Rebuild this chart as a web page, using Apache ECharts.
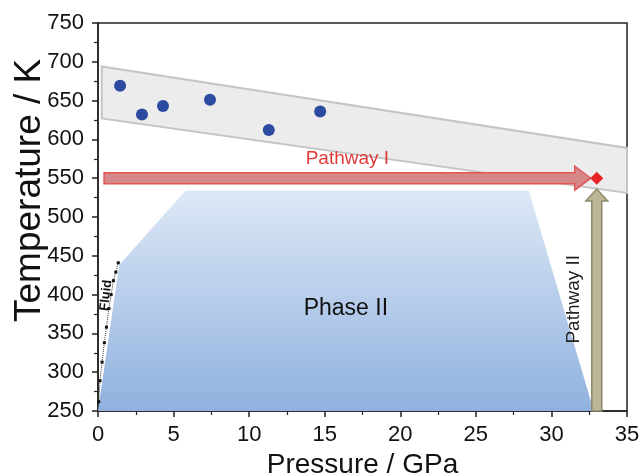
<!DOCTYPE html>
<html>
<head>
<meta charset="utf-8">
<script src="https://cdn.jsdelivr.net/npm/echarts@6/dist/echarts.min.js"></script>
<style>html,body{margin:0;padding:0;background:#fff}#c{width:641px;height:475px}</style>
</head>
<body>
<div id="c"></div>
<script>
// ---- data ----
const xTicks = [0, 5, 10, 15, 20, 25, 30, 35];
const yTicks = [250, 300, 350, 400, 450, 500, 550, 600, 650, 700, 750];
const pressure = [1.46, 2.91, 4.3, 7.41, 11.3, 14.7];
const temperature = [669, 632, 643, 651, 612, 636];
const bandPolygon = [[0.25, 694], [35, 589], [35, 531], [0.25, 627]];
const phaseIIPolygon = [[0, 250], [1.4, 438], [5.8, 534], [28.5, 534], [32.8, 250]];
const fluidP = [0.05, 0.13, 0.27, 0.42, 0.56, 0.72, 0.87, 1.02, 1.18, 1.34];
const fluidT = [262, 289, 313, 338, 358, 382, 400, 418, 429, 441];
const pathwayI = [[0.4, 550], [32.6, 550]];
const pathwayII = [[33.0, 250], [33.0, 536]];
const targetPoint = [[33.0, 550]];
const labelTexts = ['Pathway I', 'Pathway II', 'Phase II', 'Fluid'];
const labelAnchors = [[16.5, 575], [31.5, 394], [16.4, 382], [0.53, 399]];

const chart = echarts.init(document.getElementById('c'), null, {renderer: 'canvas'});
const FONT = '"Liberation Sans", Arial, sans-serif';

function hArrow(api, seg, st) {
  const a = api.coord(seg[0]), b = api.coord(seg[1]);
  const y = a[1], h = 5.5, H = 12, L = 16;
  return {type: 'polygon', shape: {points: [
    [a[0], y - h], [b[0] - L, y - h], [b[0] - L, y - H], [b[0], y],
    [b[0] - L, y + H], [b[0] - L, y + h], [a[0], y + h]]}, style: st};
}
function vArrow(api, seg, st) {
  const a = api.coord(seg[0]), b = api.coord(seg[1]);
  const x = a[0], w = 5, W = 11, L = 12;
  return {type: 'polygon', shape: {points: [
    [x - w, a[1]], [x - w, b[1] + L], [x - W, b[1] + L], [x, b[1]],
    [x + W, b[1] + L], [x + w, b[1] + L], [x + w, a[1]]]}, style: st};
}

const option = {
  animation: false,
  grid: {left: 98, right: 14, top: 23, bottom: 64, containLabel: false, outerBoundsMode: 'none',
    show: true, borderColor: '#222', borderWidth: 1.5, backgroundColor: 'transparent'},
  graphic: [{
    type: 'text',
    style: {text: 'Temperature / K', fontFamily: FONT, fontSize: 37, fill: '#111'},
    rotation: Math.PI / 2, x: 11, y: 322
  }],
  xAxis: {
    type: 'value', min: 0, max: 35, interval: 5,
    name: 'Pressure / GPa', nameLocation: 'middle', nameGap: 36,
    nameTextStyle: {fontFamily: FONT, fontSize: 28, color: '#111'},
    axisLine: {show: true, lineStyle: {color: '#222', width: 1.5}},
    axisTick: {show: true, inside: false, length: 6, lineStyle: {color: '#222', width: 1.5}},
    minorTick: {show: true, splitNumber: 2, length: 4, lineStyle: {color: '#222', width: 1.2}},
    axisLabel: {fontFamily: FONT, fontSize: 22, color: '#111', margin: 13, formatter: v => xTicks.includes(v) ? String(v) : ''},
    splitLine: {show: false}
  },
  yAxis: {
    type: 'value', min: 250, max: 750, interval: 50,
    axisLine: {show: true, lineStyle: {color: '#222', width: 1.5}},
    axisTick: {show: true, inside: false, length: 6, lineStyle: {color: '#222', width: 1.5}},
    minorTick: {show: true, splitNumber: 2, length: 4, lineStyle: {color: '#222', width: 1.2}},
    axisLabel: {fontFamily: FONT, fontSize: 22, color: '#111', margin: 14, formatter: v => yTicks.includes(v) ? String(v) : ''},
    splitLine: {show: false}
  },
  series: [
    {
      type: 'custom', name: 'band', z: 1, silent: true,
      data: [[0, 0]],
      renderItem: (params, api) => ({
        type: 'polygon',
        shape: {points: bandPolygon.map(p => api.coord(p))},
        style: {fill: '#ececec', stroke: '#c4c4c4', lineWidth: 2}
      })
    },
    {
      type: 'custom', name: 'phaseII', z: 2, silent: true,
      data: [[0, 0]],
      renderItem: (params, api) => ({
        type: 'polygon',
        shape: {points: phaseIIPolygon.map(p => api.coord(p))},
        style: {fill: new echarts.graphic.LinearGradient(0, 0, 0, 1, [
          {offset: 0, color: '#dde8f6'}, {offset: 1, color: '#90b1df'}])}
      })
    },
    {
      type: 'line', name: 'fluid', z: 3, silent: true,
      data: fluidP.map((p, i) => [p, fluidT[i]]),
      symbol: 'rect', symbolSize: 3,
      itemStyle: {color: '#111'},
      lineStyle: {color: '#333', width: 1, type: 'dotted'}
    },
    {
      type: 'custom', name: 'arrows', z: 4, silent: true,
      data: [[0, 0]],
      renderItem: (params, api) => ({
        type: 'group', children: [
          hArrow(api, pathwayI, {fill: '#d68788', stroke: '#e25656', lineWidth: 1.5}),
          vArrow(api, pathwayII, {fill: '#bab697', stroke: '#8d8a6a', lineWidth: 1.5})
        ]
      })
    },
    {
      type: 'scatter', name: 'points', z: 5,
      data: pressure.map((p, i) => [p, temperature[i]]),
      symbol: 'circle', symbolSize: 12,
      itemStyle: {color: '#2b4aa0', opacity: 1}
    },
    {
      type: 'scatter', name: 'target', z: 5,
      data: targetPoint,
      symbol: 'diamond', symbolSize: 13,
      itemStyle: {color: '#ea2424', opacity: 1}
    },
    {
      type: 'custom', name: 'labels', z: 6, silent: true,
      data: [[0, 0]],
      renderItem: (params, api) => {
        const styles = [
          {fill: '#e23a3a', fontSize: 19, fontWeight: 'normal', rot: 0},
          {fill: '#222', fontSize: 19, fontWeight: 'normal', rot: Math.PI / 2},
          {fill: '#111', fontSize: 23, fontWeight: 'normal', rot: 0},
          {fill: '#111', fontSize: 13, fontWeight: 'bold', rot: 1.45}
        ];
        return {type: 'group', children: labelTexts.map((t, i) => {
          const c = api.coord(labelAnchors[i]);
          const s = styles[i];
          return {type: 'text', x: c[0], y: c[1], rotation: s.rot,
            style: {text: t, fill: s.fill, fontSize: s.fontSize, fontWeight: s.fontWeight,
              fontFamily: FONT, align: 'center', verticalAlign: 'middle'}};
        })};
      }
    }
  ]
};
chart.setOption(option);
</script>
</body>
</html>
